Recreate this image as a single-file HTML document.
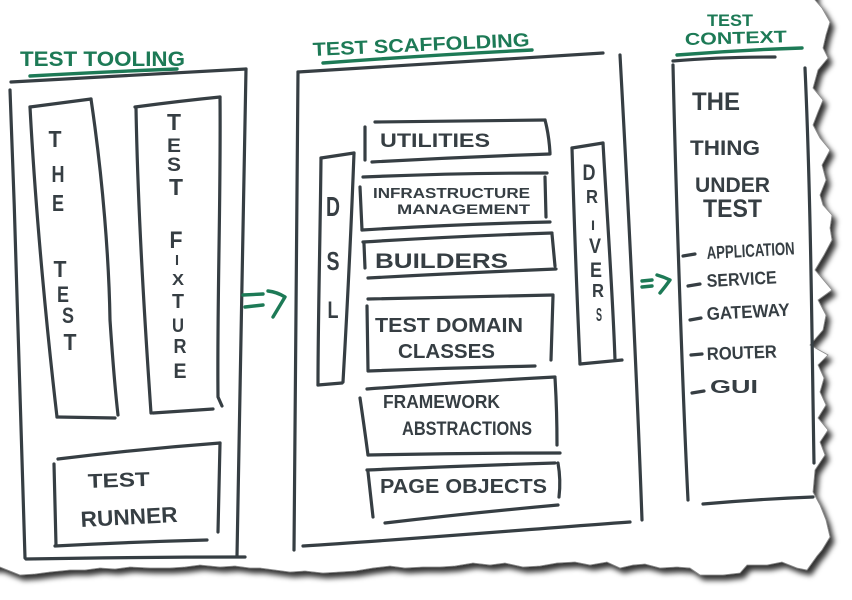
<!DOCTYPE html>
<html><head><meta charset="utf-8"><style>
html,body{margin:0;padding:0;background:#fff;width:852px;height:600px;overflow:hidden}
svg{display:block}
.k{fill:none;stroke:#363e43;stroke-width:3.2;stroke-linecap:round;stroke-linejoin:round}
.g{fill:none;stroke:#1d7a56;stroke-width:3.4;stroke-linecap:round;stroke-linejoin:round}
text{font-family:"Liberation Sans",sans-serif;font-weight:bold}
.t{fill:#363e43}
.tg{fill:#1d7a56}
.v{fill:#363e43;text-anchor:middle}
</style></head><body>
<svg width="852" height="600" viewBox="0 0 852 600" xmlns="http://www.w3.org/2000/svg">
<defs>
<filter id="sh" x="-10%" y="-10%" width="130%" height="130%">
<feDropShadow dx="4" dy="5" stdDeviation="2.6" flood-color="#000" flood-opacity="0.8"/>
</filter>
</defs>
<rect width="852" height="600" fill="#fff"/>
<!-- torn paper -->
<polygon filter="url(#sh)" fill="#fff" stroke="#8a8a8a" stroke-width="0.8" points="-20,-20 815,-20 815,0 822,8 830,22 826,35 823,48 828,58 818,70 813,88 823,100 818,112 813,125 820,138 830,150 822,165 826,180 820,195 823,205 832,215 830,228 832,240 824,255 815,270 832,290 818,300 826,315 823,330 810,345 828,355 818,365 824,378 820,392 826,405 818,418 828,430 820,442 825,455 815,470 813,492 820,505 826,520 830,537 822,550 817,556 807,570 797,568 782,562 767,565 747,565 740,573 723,575 700,575 690,568 677,567 660,568 645,564 633,565 620,568 607,562 590,565 575,562 557,563 540,566 523,567 505,563 490,565 473,563 455,566 440,567 423,567 405,568 390,566 373,568 355,571 340,572 323,573 305,571 290,572 275,570 260,568 250,568 235,566 220,567 200,565 185,567 170,568 150,568 130,567 115,569 100,568 85,570 70,570 50,572 35,574 20,575 10,571 0,567 -20,567"/>

<!-- ===== LEFT: TEST TOOLING ===== -->
<text class="tg" x="20" y="66" font-size="21" textLength="165" lengthAdjust="spacingAndGlyphs">TEST TOOLING</text>
<path class="g" d="M30,76 Q100,72 177,69"/>
<path class="k" d="M11,82 Q130,75 246,69"/>
<path class="k" d="M246,69 C244,200 239,420 237,556"/>
<path class="k" d="M26,559 Q140,557 245,557"/>
<path class="k" d="M10,90 C16,250 22,420 25,558"/>

<!-- THE TEST -->
<path class="k" d="M30,107 L91,99"/>
<path class="k" d="M91,99 C103,180 109,260 110,320 Q114,380 118,415"/>
<path class="k" d="M57,417 L115,418"/>
<path class="k" d="M30,107 C36,220 48,340 57,417"/>
<text class="v" x="55" y="147" font-size="23" textLength="13" lengthAdjust="spacingAndGlyphs">T</text>
<text class="v" x="58" y="182" font-size="23" textLength="13" lengthAdjust="spacingAndGlyphs">H</text>
<text class="v" x="58" y="211" font-size="23" textLength="12" lengthAdjust="spacingAndGlyphs">E</text>
<text class="v" x="60" y="277" font-size="23" textLength="13" lengthAdjust="spacingAndGlyphs">T</text>
<text class="v" x="63" y="302" font-size="22" textLength="12" lengthAdjust="spacingAndGlyphs">E</text>
<text class="v" x="68" y="323" font-size="22" textLength="12" lengthAdjust="spacingAndGlyphs">S</text>
<text class="v" x="70" y="350" font-size="23" textLength="13" lengthAdjust="spacingAndGlyphs">T</text>

<!-- TEST FIXTURE -->
<path class="k" d="M135,107 Q180,101 220,97"/>
<path class="k" d="M136,108 C138,220 146,340 151,413"/>
<path class="k" d="M220,97 C221,200 217,300 218,397 L222,406"/>
<path class="k" d="M153,413 L213,409"/>
<text class="v" x="174" y="130" font-size="23" textLength="14" lengthAdjust="spacingAndGlyphs">T</text>
<text class="v" x="174" y="152" font-size="19" textLength="14" lengthAdjust="spacingAndGlyphs">E</text>
<text class="v" x="174" y="171" font-size="19" textLength="14" lengthAdjust="spacingAndGlyphs">S</text>
<text class="v" x="176" y="195" font-size="23" textLength="14" lengthAdjust="spacingAndGlyphs">T</text>
<text class="v" x="176" y="248" font-size="24" textLength="13" lengthAdjust="spacingAndGlyphs">F</text>
<text class="v" x="177" y="265" font-size="15" textLength="4" lengthAdjust="spacingAndGlyphs">I</text>
<text class="v" x="178" y="285" font-size="16" textLength="12" lengthAdjust="spacingAndGlyphs">X</text>
<text class="v" x="178" y="308" font-size="20" textLength="12" lengthAdjust="spacingAndGlyphs">T</text>
<text class="v" x="178" y="332" font-size="19" textLength="12" lengthAdjust="spacingAndGlyphs">U</text>
<text class="v" x="180" y="353" font-size="20" textLength="13" lengthAdjust="spacingAndGlyphs">R</text>
<text class="v" x="180" y="378" font-size="21" textLength="13" lengthAdjust="spacingAndGlyphs">E</text>

<!-- TEST RUNNER -->
<path class="k" d="M58,459 Q140,449 220,443"/>
<path class="k" d="M220,443 L218,532"/>
<path class="k" d="M54,464 L56,545"/>
<path class="k" d="M55,546 Q130,542 207,540"/>
<text class="t" x="88" y="488" font-size="20" textLength="62" lengthAdjust="spacingAndGlyphs" transform="rotate(-2 88 488)">TEST</text>
<text class="t" x="81" y="527" font-size="22" textLength="97" lengthAdjust="spacingAndGlyphs" transform="rotate(-3 81 527)">RUNNER</text>

<!-- arrow 1 -->
<path class="g" d="M243,295 L263,294"/>
<path class="g" d="M245,307 L263,305"/>
<path class="g" d="M268,291 Q277,292 285,297 Q279,307 273,317"/>

<!-- ===== MIDDLE: TEST SCAFFOLDING ===== -->
<text class="tg" x="313" y="56" font-size="19" textLength="217" lengthAdjust="spacingAndGlyphs" transform="rotate(-2.6 313 56)">TEST SCAFFOLDING</text>
<path class="g" d="M323,63 Q430,55 532,50"/>
<path class="k" d="M298,72 L603,53"/>
<path class="k" d="M620,55 C628,200 637,380 642,520"/>
<path class="k" d="M298,72 C297,250 295,420 294,550"/>
<path class="k" d="M303,546 C400,540 520,530 630,522"/>

<!-- DSL -->
<path class="k" d="M321,158 L354,153"/>
<path class="k" d="M354,153 C350,260 346,330 343,382"/>
<path class="k" d="M318,385 L342,383"/>
<path class="k" d="M321,158 C320,250 318,320 318,385"/>
<text class="v" x="333" y="216" font-size="28" textLength="14" lengthAdjust="spacingAndGlyphs">D</text>
<text class="v" x="333" y="270" font-size="26" textLength="13" lengthAdjust="spacingAndGlyphs">S</text>
<text class="v" x="333" y="318" font-size="24" textLength="11" lengthAdjust="spacingAndGlyphs">L</text>

<!-- Utilities -->
<path class="k" d="M375,122 L545,120"/>
<path class="k" d="M365,127 L365,160"/>
<path class="k" d="M372,162 Q460,157 550,154"/>
<path class="k" d="M545,120 Q549,135 550,153"/>
<text class="t" x="380" y="147" font-size="19" textLength="110" lengthAdjust="spacingAndGlyphs">UTILITIES</text>

<!-- Infrastructure -->
<path class="k" d="M363,177 Q455,173 547,173"/>
<path class="k" d="M360,187 Q361,210 362,230"/>
<path class="k" d="M362,230 Q460,224 550,222"/>
<path class="k" d="M545,177 L546,217"/>
<text class="t" x="373" y="198" font-size="15" textLength="157" lengthAdjust="spacingAndGlyphs">INFRASTRUCTURE</text>
<text class="t" x="397" y="214" font-size="14" textLength="133" lengthAdjust="spacingAndGlyphs">MANAGEMENT</text>

<!-- Builders -->
<path class="k" d="M363,242 Q460,236 552,233"/>
<path class="k" d="M364,244 L365,268"/>
<path class="k" d="M368,278 Q460,273 556,269"/>
<path class="k" d="M552,234 L555,266"/>
<text class="t" x="375" y="268" font-size="21" textLength="133" lengthAdjust="spacingAndGlyphs">BUILDERS</text>

<!-- Test domain classes -->
<path class="k" d="M368,299 Q460,297 553,295"/>
<path class="k" d="M367,306 L368,370"/>
<path class="k" d="M368,371 Q450,368 535,366"/>
<path class="k" d="M553,296 L551,360"/>
<text class="t" x="375" y="332" font-size="20" textLength="148" lengthAdjust="spacingAndGlyphs">TEST DOMAIN</text>
<text class="t" x="398" y="358" font-size="20" textLength="97" lengthAdjust="spacingAndGlyphs">CLASSES</text>

<!-- Framework abstractions -->
<path class="k" d="M367,389 Q460,382 555,377"/>
<path class="k" d="M360,398 Q364,425 368,455"/>
<path class="k" d="M368,455 Q465,453 560,453"/>
<path class="k" d="M555,378 Q557,410 557,445"/>
<text class="t" x="383" y="408" font-size="18" textLength="117" lengthAdjust="spacingAndGlyphs">FRAMEWORK</text>
<text class="t" x="402" y="435" font-size="19" textLength="130" lengthAdjust="spacingAndGlyphs">ABSTRACTIONS</text>

<!-- Page objects -->
<path class="k" d="M367,470 Q460,466 555,463"/>
<path class="k" d="M558,463 Q561,480 559,497"/>
<path class="k" d="M368,472 L373,517"/>
<path class="k" d="M385,523 Q470,513 558,505"/>
<text class="t" x="380" y="493" font-size="20" textLength="167" lengthAdjust="spacingAndGlyphs">PAGE OBJECTS</text>

<!-- Drivers -->
<path class="k" d="M572,148 L603,143"/>
<path class="k" d="M572,148 C575,250 578,320 580,364"/>
<path class="k" d="M580,364 L622,360"/>
<path class="k" d="M603,143 C608,230 613,300 615,360"/>
<text class="v" x="589" y="180" font-size="22" textLength="13" lengthAdjust="spacingAndGlyphs">D</text>
<text class="v" x="592" y="203" font-size="18" textLength="12" lengthAdjust="spacingAndGlyphs">R</text>
<text class="v" x="593" y="230" font-size="14" textLength="4" lengthAdjust="spacingAndGlyphs">I</text>
<text class="v" x="595" y="253" font-size="21" textLength="12" lengthAdjust="spacingAndGlyphs">V</text>
<text class="v" x="596" y="277" font-size="21" textLength="12" lengthAdjust="spacingAndGlyphs">E</text>
<text class="v" x="598" y="297" font-size="18" textLength="12" lengthAdjust="spacingAndGlyphs">R</text>
<text class="v" x="599" y="321" font-size="18" textLength="6" lengthAdjust="spacingAndGlyphs">S</text>

<!-- arrow 2 -->
<path class="g" d="M642,281 L652,280"/>
<path class="g" d="M642,287 L652,286"/>
<path class="g" d="M657,275 Q664,277 670,280 Q665,287 660,293"/>

<!-- ===== RIGHT: TEST CONTEXT ===== -->
<text class="tg" x="707" y="26" font-size="17" textLength="46" lengthAdjust="spacingAndGlyphs">TEST</text>
<text class="tg" x="685" y="45" font-size="17" textLength="102" lengthAdjust="spacingAndGlyphs" transform="rotate(-1.5 685 45)">CONTEXT</text>
<path class="g" d="M677,55 Q740,50 802,48"/>
<path class="k" d="M673,61 Q720,57 775,57"/>
<path class="k" d="M673,65 C676,200 683,400 688,500"/>
<path class="k" d="M805,68 C811,200 812,350 814,463"/>
<path class="k" d="M703,504 Q760,499 813,497"/>

<text class="t" x="692" y="110" font-size="25" textLength="48" lengthAdjust="spacingAndGlyphs">THE</text>
<text class="t" x="690" y="155" font-size="21" textLength="70" lengthAdjust="spacingAndGlyphs">THING</text>
<text class="t" x="695" y="192" font-size="21" textLength="75" lengthAdjust="spacingAndGlyphs">UNDER</text>
<text class="t" x="703" y="217" font-size="25" textLength="59" lengthAdjust="spacingAndGlyphs">TEST</text>

<path class="k" d="M683,256 L695,254"/>
<text class="t" x="707" y="259" font-size="18" textLength="88" lengthAdjust="spacingAndGlyphs" transform="rotate(-3 707 259)">APPLICATION</text>
<path class="k" d="M688,286 L700,284"/>
<text class="t" x="707" y="287" font-size="18" textLength="70" lengthAdjust="spacingAndGlyphs" transform="rotate(-3 707 287)">SERVICE</text>
<path class="k" d="M690,320 L701,318"/>
<text class="t" x="707" y="320" font-size="18" textLength="83" lengthAdjust="spacingAndGlyphs" transform="rotate(-3 707 320)">GATEWAY</text>
<path class="k" d="M691,355 L702,354"/>
<text class="t" x="707" y="360" font-size="18" textLength="70" lengthAdjust="spacingAndGlyphs" transform="rotate(-2 707 360)">ROUTER</text>
<path class="k" d="M692,393 L704,391"/>
<text class="t" x="710" y="393" font-size="18" textLength="48" lengthAdjust="spacingAndGlyphs">GUI</text>
</svg>
</body></html>
